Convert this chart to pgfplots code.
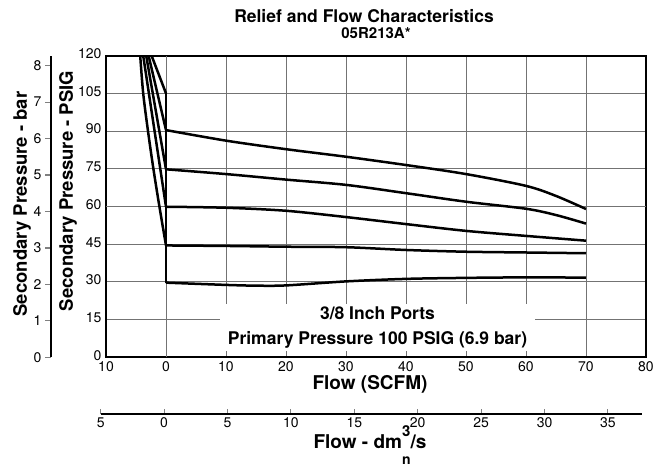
\documentclass[border=0pt]{standalone}
\usepackage{pgfplots}
\pgfplotsset{compat=1.18}
\usepackage{fontspec}
\setmainfont{TeX Gyre Heros}
\begin{document}
\begin{tikzpicture}[x=1pt,y=1pt]
\useasboundingbox (0,0) rectangle (662,468);
% main axis
\begin{axis}[
  at={(106pt,110.7pt)}, anchor=south west,
  scale only axis, width=540pt, height=301.6pt,
  xmin=-10, xmax=80, ymin=0, ymax=120,
  xtick={-10,10,20,...,80}, xticklabels={10,10,20,30,40,50,60,70,80},
  extra x ticks={0}, extra x tick labels={0},
  extra x tick style={grid style={black, line width=0.9pt}},
  ytick={0,15,30,45,75,90,105,120},
  extra y ticks={60},
  extra y tick style={grid style={black, line width=0.9pt}},
  grid=major, major grid style={black!55, line width=0.9pt},
  axis line style={line width=1.8pt},
  tick style={draw=none},
  tick label style={font=\fontsize{14}{14}\selectfont},
  yticklabel style={xshift=-1pt, yshift=2pt},
  xticklabel style={yshift=-1pt},
  /pgf/number format/assume math mode=true,
  clip=true,
]
\addplot[line width=2.5pt, black, line join=round, smooth, tension=0.5] coordinates {(0,90.4) (10,86.2) (20,82.8) (30,79.8) (40,76.5) (50,72.9) (60,68.2) (65,64.2) (70,59.0)};
\addplot[line width=2.5pt, black, line join=round, smooth, tension=0.5] coordinates {(0,74.8) (10,72.9) (20,70.7) (30,68.6) (40,65.3) (50,61.9) (60,59.1) (65,56.6) (70,53.2)};
\addplot[line width=2.5pt, black, line join=round, smooth, tension=0.5] coordinates {(0,59.9) (10,59.5) (20,58.3) (30,55.8) (40,53.0) (50,50.3) (60,48.3) (70,46.4)};
\addplot[line width=2.5pt, black, line join=round, smooth, tension=0.5] coordinates {(0,44.5) (10,44.3) (20,44.0) (30,43.8) (40,42.7) (50,42.0) (60,41.7) (70,41.4)};
\addplot[line width=2.5pt, black, line join=round, smooth, tension=0.5] coordinates {(0,29.7) (10,28.8) (15,28.5) (20,28.6) (30,30.2) (40,31.2) (50,31.6) (60,31.8) (70,31.7)};
% relief curves
\addplot[line width=2.5pt, black, line join=round, smooth, tension=0.5] coordinates {(-4.3,120) (-3.8,105) (-3.0,90) (-2.1,75) (-1.1,60) (0,44.5)};
\addplot[line width=2.5pt, black] coordinates {(-3.8,120) (0,59.9)};
\addplot[line width=2.5pt, black] coordinates {(-3.3,120) (0,74.8)};
\addplot[line width=2.5pt, black] coordinates {(-2.9,120) (0,90.4)};
\addplot[line width=2.5pt, black] coordinates {(-2.4,120) (0,105)};
\addplot[line width=2.5pt, black] coordinates {(0,29.7) (0,105)};
\node[fill=white, minimum width=315pt, minimum height=47pt, inner sep=0pt, align=center,
      font=\fontsize{17.5}{25}\selectfont\bfseries] at (axis cs:35.25,11.8)
      {3/8 Inch Ports\\Primary Pressure 100 PSIG (6.9 bar)};
\end{axis}
% bar axis
\begin{axis}[
  at={(51pt,110.7pt)}, anchor=south west,
  scale only axis, width=1pt, height=301.6pt,
  hide x axis, axis y line*=left,
  xmin=0, xmax=1, ymin=0, ymax=8.2737,
  ytick={0,...,8},
  y axis line style={-, line width=1.2pt},
  ytick style={line width=1.2pt},
  tick align=outside, major tick length=6pt,
  tick label style={font=\fontsize{14}{14}\selectfont},
  /pgf/number format/assume math mode=true,
]
\end{axis}
% dm3/s axis
\begin{axis}[
  at={(100.7pt,54pt)}, anchor=south west,
  scale only axis, width=541pt, height=1pt,
  hide y axis, axis x line*=bottom,
  xmin=-5, xmax=37.66, ymin=0, ymax=1,
  xtick={-5,0,...,35}, xticklabels={5,0,5,10,15,20,25,30,35},
  x axis line style={-, line width=1.2pt},
  xtick style={line width=1pt},
  tick align=inside, major tick length=5pt,
  tick label style={font=\fontsize{14}{14}\selectfont},
]
\end{axis}
\node[font=\fontsize{17.5}{17.5}\selectfont\bfseries] at (364,452) {Relief and Flow Characteristics};
\node[font=\fontsize{15}{15}\selectfont\bfseries] at (376,435) {05R213A*};
\node[font=\fontsize{19}{19}\selectfont\bfseries] at (370,84) {Flow (SCFM)};
\node[font=\fontsize{19}{19}\selectfont\bfseries] at (370,23) {Flow - dm\rlap{\raisebox{0.6em}{\fontsize{15}{15}\selectfont 3}}\raisebox{-0.85em}{\fontsize{14}{14}\selectfont n}/s};
\node[rotate=90, font=\fontsize{18.5}{18.5}\selectfont\bfseries] at (68,277) {Secondary Pressure - PSIG};
\node[rotate=90, font=\fontsize{18.5}{18.5}\selectfont\bfseries] at (22,264) {Secondary Pressure - bar};
\end{tikzpicture}
\end{document}
